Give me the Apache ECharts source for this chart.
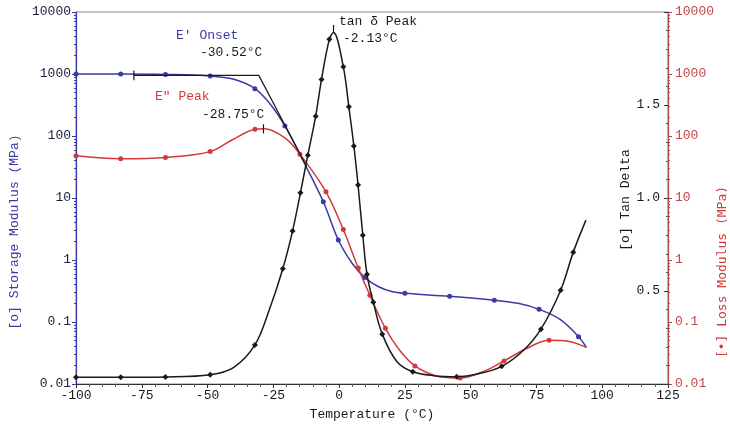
<!DOCTYPE html>
<html><head><meta charset="utf-8">
<script src="https://cdn.jsdelivr.net/npm/echarts@6/dist/echarts.min.js"></script>
<style>html,body{margin:0;padding:0;background:#fff}#c{width:730px;height:426px}</style>
</head><body><div id="c"></div>
<script>
// ---- data ----
const storageT    = [-100, -83, -66, -49, -40, -32, -26, -20.6, -13.7, -6, -0.3, 5, 9.8, 15, 20, 25, 42, 59, 68, 76, 84, 91, 94];
const storageMPa  = [1000, 1000, 985, 930, 820, 580, 320, 145, 40, 8.7, 2.1, 0.88, 0.52, 0.37, 0.31, 0.29, 0.26, 0.225, 0.2, 0.16, 0.11, 0.058, 0.039];
const storageMark = [1, 1, 1, 1, 0, 1, 0, 1, 0, 1, 1, 0, 1, 0, 0, 1, 1, 1, 0, 1, 0, 1, 0];

const lossT    = [-100, -83, -66, -49, -40.6, -32, -28.5, -20.6, -14.9, -5, 1.6, 7.3, 11.7, 17.6, 23, 28.8, 37, 46, 55, 62.7, 71, 79.8, 87, 94];
const lossMPa  = [48, 43, 45, 56, 87, 128, 131, 93, 51, 12.6, 3.1, 0.74, 0.27, 0.079, 0.035, 0.0196, 0.0135, 0.0125, 0.016, 0.0236, 0.037, 0.051, 0.049, 0.039];
const lossMark = [1, 1, 1, 1, 0, 1, 0, 0, 1, 1, 1, 1, 1, 1, 0, 1, 0, 1, 0, 1, 0, 1, 0, 0];

const tanT    = [-100, -83, -66, -49, -40, -32, -26.5, -21.4, -17.7, -14.7, -11.9, -8.9, -6.7, -3.7, -2.13, 1.6, 3.7, 5.6, 7.2, 9, 10.6, 13, 16.4, 22, 28, 36, 44.7, 53, 61.8, 70, 76.7, 84.2, 89, 93.8];
const tanDelta= [0.036, 0.036, 0.038, 0.05, 0.09, 0.21, 0.4, 0.62, 0.822, 1.028, 1.23, 1.44, 1.637, 1.854, 1.89, 1.705, 1.49, 1.28, 1.07, 0.8, 0.59, 0.44, 0.268, 0.12, 0.066, 0.045, 0.039, 0.055, 0.095, 0.18, 0.295, 0.504, 0.709, 0.881];
const tanMark = [1, 1, 1, 1, 0, 1, 0, 1, 1, 1, 1, 1, 1, 1, 0, 1, 1, 1, 1, 1, 1, 1, 1, 0, 1, 0, 1, 0, 1, 0, 1, 1, 1, 0];

// annotation values
const onsetT = -30.52, onsetBaseT = -78, onsetBaseMPa = 950, tangentEndT = -12.3, tangentEndMPa = 32;
const lossPeakT = -28.75, tanPeakT = -2.13, tanPeakVal = 1.89;
const xTickLabels = [-100, -75, -50, -25, 0, 25, 50, 75, 100, 125];
const logTickLabels = ['0.01', '0.1', '1', '10', '100', '1000', '10000'];

const FONT = 'Liberation Mono';
const BLUE = '#3a3aa6', RED = '#d23a3a', BLACK = '#1a1a1a';

function build(T, V, M, sym) {
  return T.map((t, i) => ({ value: [t, V[i]], symbol: M[i] ? sym : 'none' }));
}

const chart = echarts.init(document.getElementById('c'), null, { renderer: 'canvas' });
const logLabel = v => {
  const s = logTickLabels.find(l => Math.abs(Math.log10(parseFloat(l)) - Math.log10(v)) < 1e-6);
  return s || '';
};
chart.setOption({
  animation: false,
  backgroundColor: '#fff',
  grid: { left: 76, right: 62, top: 12, bottom: 41, show: true, borderColor: '#8a8a8a', borderWidth: 1 },
  xAxis: {
    type: 'value', min: -100, max: 125, interval: 25,
    name: 'Temperature (°C)', nameLocation: 'middle', nameGap: 24,
    nameTextStyle: { fontFamily: FONT, fontSize: 13, color: BLACK },
    axisLine: { onZero: false, lineStyle: { color: '#333', width: 1.2 } },
    axisTick: { length: 4, lineStyle: { color: '#333' } },
    minorTick: { show: true, splitNumber: 5, length: 3, lineStyle: { color: '#555' } },
    splitLine: { show: false },
    axisLabel: { fontFamily: FONT, fontSize: 13, color: BLACK, margin: 5,
      formatter: v => xTickLabels.includes(v) ? String(v) : '' }
  },
  yAxis: [
    { type: 'log', logBase: 10, min: 0.01, max: 10000, position: 'left',
      axisLine: { show: true, onZero: false, lineStyle: { color: BLUE, width: 1.2 } },
      axisTick: { show: true, length: 4, lineStyle: { color: BLUE } },
      minorTick: { show: true, splitNumber: 9, length: 2, lineStyle: { color: BLUE } },
      splitLine: { show: false },
      axisLabel: { fontFamily: FONT, fontSize: 13, color: '#1e1e3c', margin: 5, formatter: logLabel } },
    { type: 'log', logBase: 10, min: 0.01, max: 10000, position: 'right',
      axisLine: { show: true, onZero: false, lineStyle: { color: '#b04848', width: 1.2 } },
      axisTick: { show: true, length: 4, lineStyle: { color: '#b04848' } },
      minorTick: { show: true, splitNumber: 9, length: 2, lineStyle: { color: '#b04848' } },
      splitLine: { show: false },
      axisLabel: { fontFamily: FONT, fontSize: 13, color: '#c04848', margin: 7, formatter: logLabel } },
    { type: 'value', min: 0, max: 2, interval: 0.5, position: 'right',
      axisLine: { show: false, onZero: false },
      axisTick: { show: true, inside: true, length: 4, lineStyle: { color: '#333' } },
      minorTick: { show: true, splitNumber: 5, length: 2, lineStyle: { color: '#555' } },
      splitLine: { show: false },
      axisLabel: { inside: true, fontFamily: FONT, fontSize: 13, color: BLACK, margin: 8,
        formatter: v => (v > 0 && v < 2) ? v.toFixed(1) : '' } }
  ],
  series: [
    { type: 'line', yAxisIndex: 0, smooth: 0.35, data: build(storageT, storageMPa, storageMark, 'circle'),
      symbolSize: 5, color: BLUE, lineStyle: { color: BLUE, width: 1.5 }, itemStyle: { color: BLUE }, z: 3 },
    { type: 'line', yAxisIndex: 1, smooth: 0.35, data: build(lossT, lossMPa, lossMark, 'circle'),
      symbolSize: 5, color: RED, lineStyle: { color: RED, width: 1.5 }, itemStyle: { color: RED }, z: 3 },
    { type: 'line', yAxisIndex: 2, smooth: 0.35, data: build(tanT, tanDelta, tanMark, 'diamond'),
      symbolSize: 6, color: BLACK, lineStyle: { color: BLACK, width: 1.5 }, itemStyle: { color: BLACK }, z: 4 },
    { type: 'line', yAxisIndex: 0, symbol: 'none', lineStyle: { color: BLACK, width: 1.2 }, z: 5,
      data: [[onsetBaseT, onsetBaseMPa], [onsetT, onsetBaseMPa], [tangentEndT, tangentEndMPa]] },
    { type: 'line', yAxisIndex: 0, symbol: 'none', lineStyle: { color: BLACK, width: 1.2 }, z: 5,
      data: [[onsetBaseT, onsetBaseMPa * 1.2], [onsetBaseT, onsetBaseMPa / 1.2]] },
    { type: 'line', yAxisIndex: 1, symbol: 'none', lineStyle: { color: BLACK, width: 1.2 }, z: 5,
      data: [[lossPeakT, 155], [lossPeakT, 110]] },
    { type: 'line', yAxisIndex: 2, symbol: 'none', lineStyle: { color: BLACK, width: 1.2 }, z: 5,
      data: [[tanPeakT, tanPeakVal], [tanPeakT, tanPeakVal + 0.04]] }
  ],
  graphic: [
    { type: 'text', x: 15, y: 232, rotation: Math.PI / 2,
      style: { text: '[o] Storage Modulus (MPa)', fill: BLUE, font: '13px "Liberation Mono"', align: 'center', verticalAlign: 'middle' } },
    { type: 'text', x: 626, y: 200, rotation: Math.PI / 2,
      style: { text: '[o] Tan Delta', fill: BLACK, font: '13px "Liberation Mono"', align: 'center', verticalAlign: 'middle' } },
    { type: 'text', x: 723, y: 272, rotation: Math.PI / 2,
      style: { text: '[•] Loss Modulus (MPa)', fill: RED, font: '13px "DejaVu Sans Mono"', align: 'center', verticalAlign: 'middle' } },
    { type: 'text', x: 176, y: 36, style: { text: "E' Onset", fill: BLUE, font: '13px "Liberation Mono"', verticalAlign: 'middle' } },
    { type: 'text', x: 200, y: 53, style: { text: '-30.52°C', fill: BLACK, font: '13px "Liberation Mono"', verticalAlign: 'middle' } },
    { type: 'text', x: 155, y: 97, style: { text: 'E" Peak', fill: RED, font: '13px "Liberation Mono"', verticalAlign: 'middle' } },
    { type: 'text', x: 202, y: 115, style: { text: '-28.75°C', fill: BLACK, font: '13px "Liberation Mono"', verticalAlign: 'middle' } },
    { type: 'text', x: 339, y: 22, style: { text: 'tan δ Peak', fill: BLACK, font: '13px "Liberation Mono"', verticalAlign: 'middle' } },
    { type: 'text', x: 343, y: 39, style: { text: '-2.13°C', fill: BLACK, font: '13px "Liberation Mono"', verticalAlign: 'middle' } }
  ]
});
</script>
</body></html>
